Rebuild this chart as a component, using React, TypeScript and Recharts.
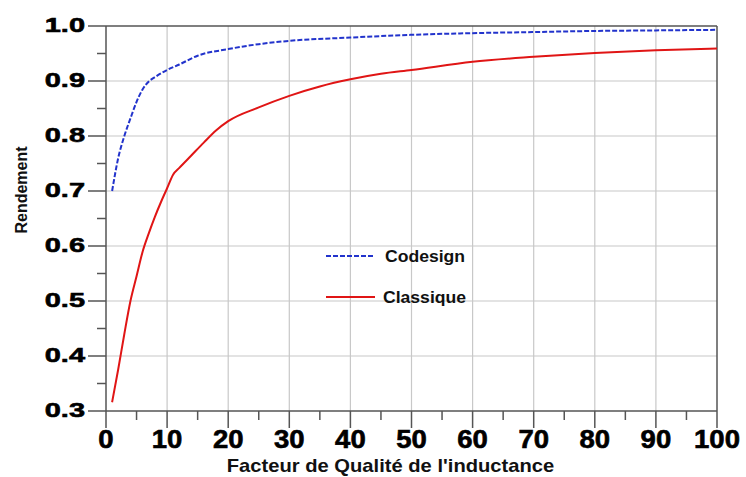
import React from 'react';
import { LineChart, Line, XAxis, YAxis, ReferenceLine, Legend } from 'recharts';

const codesignQ = [1, 2, 3, 4, 5, 6, 7, 8, 10, 12, 15, 20, 25, 30, 40, 50, 60, 70, 80, 90, 100];
const codesignEta = [0.70, 0.76, 0.80, 0.832, 0.862, 0.885, 0.899, 0.907, 0.92, 0.93, 0.946, 0.958, 0.967, 0.973, 0.979, 0.984, 0.987, 0.989, 0.991, 0.992, 0.993];

const classiqueQ = [1, 2, 3, 4, 5, 6, 7, 8, 9, 10, 11, 12, 14, 16, 18, 20, 25, 30, 35, 40, 45, 50, 60, 70, 80, 90, 100];
const classiqueEta = [0.316, 0.376, 0.44, 0.50, 0.545, 0.59, 0.623, 0.653, 0.68, 0.705, 0.73, 0.742, 0.765, 0.788, 0.81, 0.827, 0.852, 0.873, 0.89, 0.903, 0.913, 0.92, 0.935, 0.944, 0.951, 0.956, 0.959];

const xTicks = [0, 5, 10, 15, 20, 25, 30, 35, 40, 45, 50, 55, 60, 65, 70, 75, 80, 85, 90, 95, 100];
const yTicks = [0.3, 0.35, 0.4, 0.45, 0.5, 0.55, 0.6, 0.65, 0.7, 0.75, 0.8, 0.85, 0.9, 0.95, 1.0];
const xGrid = [10, 20, 30, 40, 50, 60, 70, 80, 90];
const yGrid = [0.4, 0.5, 0.6, 0.7, 0.8, 0.9];

const seriesNames = ['Codesign', 'Classique'];
const xTitle = "Facteur de Qualité de l'inductance";
const yTitle = 'Rendement';

const codesignData = codesignQ.map((q, i) => ({ q, eta: codesignEta[i] }));
const classiqueData = classiqueQ.map((q, i) => ({ q, eta: classiqueEta[i] }));

const FONT = '"Liberation Sans", Arial, sans-serif';
const AXIS = '#555';

const XTick = (props: any) => {
  const { x, y, payload } = props;
  const v = payload.value;
  const major = Math.round(v) % 10 === 0;
  return (
    <g>
      <line x1={x} x2={x} y1={y} y2={y + (major ? 17 : 9)} stroke={AXIS} strokeWidth={1.5} />
      {major && (
        <text
          transform={`translate(${x},${y + 37}) scale(1.1,1)`}
          textAnchor="middle"
          fontFamily={FONT}
          fontWeight="bold"
          fontSize={25}
          fill="#000"
          stroke="#000"
          strokeWidth={0.6}
        >
          {v}
        </text>
      )}
    </g>
  );
};

const YTick = (props: any) => {
  const { x, y, payload } = props;
  const v = payload.value;
  const major = Math.round(v * 100) % 10 === 0;
  return (
    <g>
      <line x1={x} x2={x - (major ? 18 : 9)} y1={y} y2={y} stroke={AXIS} strokeWidth={1.5} />
      {major && (
        <text
          transform={`translate(${x - 21},${y + 6}) scale(1.38,1)`}
          textAnchor="end"
          fontFamily={FONT}
          fontWeight="bold"
          fontSize={21}
          fill="#000"
          stroke="#000"
          strokeWidth={0.6}
        >
          {v.toFixed(1)}
        </text>
      )}
    </g>
  );
};

const XTitle = (props: any) => {
  const { viewBox } = props;
  const cx = viewBox.x + viewBox.width / 2 - 21;
  return (
    <text
      transform={`translate(${cx},${viewBox.y + 61}) scale(1.12,1)`}
      textAnchor="middle"
      fontFamily={FONT}
      fontWeight="bold"
      fontSize={18}
      fill="#111"
    >
      {xTitle}
    </text>
  );
};

const YTitle = () => (
  <text
    transform="translate(27,190) rotate(-90)"
    textAnchor="middle"
    fontFamily={FONT}
    fontWeight="bold"
    fontSize={16}
    fill="#111"
  >
    {yTitle}
  </text>
);

const LegendBox = () => (
  <svg width={200} height={80} style={{ display: 'block' }}>
    <line x1={6} x2={54} y1={20} y2={20} stroke="#2233cc" strokeWidth={2} strokeDasharray="5 2" />
    <text x={65} y={26} fontFamily={FONT} fontWeight="bold" fontSize={16} fill="#111" transform="translate(65,0) scale(1.1,1) translate(-65,0)">
      {seriesNames[0]}
    </text>
    <line x1={6} x2={55} y1={61} y2={61} stroke="#e01515" strokeWidth={2} />
    <text x={63} y={67} fontFamily={FONT} fontWeight="bold" fontSize={16} fill="#111" transform="translate(63,0) scale(1.1,1) translate(-63,0)">
      {seriesNames[1]}
    </text>
  </svg>
);

export default function App() {
  return (
    <div style={{ position: 'absolute', left: 0, top: 0, width: 746, height: 477, background: '#fff' }}>
      <LineChart width={746} height={477} margin={{ top: 26, right: 29, left: 0, bottom: 0 }}>
        <XAxis
          type="number"
          dataKey="q"
          domain={[0, 100]}
          ticks={xTicks}
          interval={0}
          tickSize={0}
          tickMargin={0}
          height={66}
          axisLine={{ stroke: AXIS, strokeWidth: 1.5 }}
          tickLine={false}
          tick={<XTick />}
          allowDataOverflow
          label={<XTitle />}
        />
        <YAxis
          type="number"
          dataKey="eta"
          domain={[0.3, 1.0]}
          ticks={yTicks}
          interval={0}
          tickSize={0}
          tickMargin={0}
          width={106}
          axisLine={{ stroke: AXIS, strokeWidth: 1.5 }}
          tickLine={false}
          tick={<YTick />}
          allowDataOverflow
          label={<YTitle />}
        />
        {xGrid.map((v) => (
          <ReferenceLine key={'x' + v} x={v} stroke="#c8c8c8" strokeWidth={1.2} />
        ))}
        {yGrid.map((v) => (
          <ReferenceLine key={'y' + v} y={v} stroke="#c8c8c8" strokeWidth={1.2} />
        ))}
        <ReferenceLine y={1.0} stroke={AXIS} strokeWidth={1.5} />
        <ReferenceLine x={100} stroke={AXIS} strokeWidth={1.5} />
        <Line
          data={classiqueData}
          dataKey="eta"
          name={seriesNames[1]}
          type="monotone"
          stroke="#e01515"
          strokeWidth={2}
          dot={false}
          isAnimationActive={false}
        />
        <Line
          data={codesignData}
          dataKey="eta"
          name={seriesNames[0]}
          type="monotone"
          stroke="#2233cc"
          strokeWidth={2}
          strokeDasharray="5 2"
          dot={false}
          isAnimationActive={false}
        />
        <Legend
          layout="horizontal"
          verticalAlign="middle"
          align="center"
          content={() => <LegendBox />}
          wrapperStyle={{ position: 'absolute', left: 320, top: 236, width: 200, height: 80, bottom: 'auto', right: 'auto' }}
        />
      </LineChart>
    </div>
  );
}
